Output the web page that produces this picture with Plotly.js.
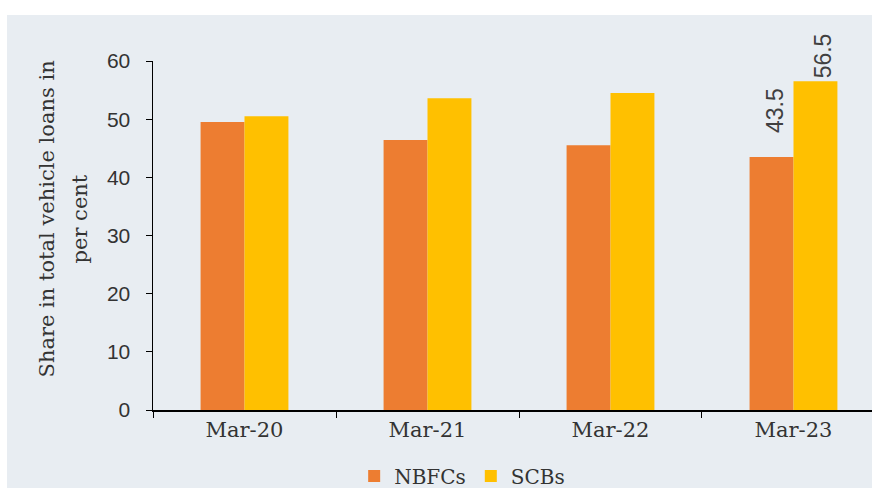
<!DOCTYPE html>
<html>
<head>
<meta charset="utf-8">
<script src="https://cdn.plot.ly/plotly-3.0.1.min.js"></script>
<style>
html,body{margin:0;padding:0;background:#ffffff;width:872px;height:488px;overflow:hidden;}
#chart{position:absolute;left:7px;top:15px;width:865px;height:500px;}
</style>
</head>
<body>
<div id="chart"></div>
<script>
const categories = ['Mar-20', 'Mar-21', 'Mar-22', 'Mar-23'];
const nbfcs = [49.5, 46.4, 45.5, 43.5];
const scbs = [50.5, 53.6, 54.5, 56.5];
const nbfcLabels = ['', '', '', '43.5'];
const scbLabels = ['', '', '', '56.5'];
const yTicks = [0, 10, 20, 30, 40, 50, 60];
const yTitleLines = ['Share in total vehicle loans in', 'per cent'];

const serif = 'DejaVu Serif, serif';
const sans = 'Liberation Sans, Arial, sans-serif';
const labelFont = {family: sans, size: 23, color: '#404040'};

const traces = [
  {type: 'bar', name: 'NBFCs', x: categories, y: nbfcs, marker: {color: '#ED7D31'}, hoverinfo: 'skip'},
  {type: 'bar', name: 'SCBs', x: categories, y: scbs, marker: {color: '#FFC000'}, hoverinfo: 'skip'}
];

// value labels as annotations anchored to the data values
const annotations = [];
nbfcLabels.forEach((t, i) => {
  if (t) annotations.push({x: categories[i], y: nbfcs[i], xref: 'x', yref: 'y', text: t, textangle: -90,
    showarrow: false, xanchor: 'center', yanchor: 'bottom', xshift: -18, yshift: 22, font: labelFont});
});
scbLabels.forEach((t, i) => {
  if (t) annotations.push({x: categories[i], y: scbs[i], xref: 'x', yref: 'y', text: t, textangle: -90,
    showarrow: false, xanchor: 'center', yanchor: 'bottom', xshift: 29, yshift: 1, font: labelFont});
});
// y-axis title (two lines)
const titleX = [-0.1474, -0.1015];
yTitleLines.forEach((t, i) => {
  annotations.push({xref: 'paper', yref: 'paper', x: titleX[i], y: 0.546, xanchor: 'center', yanchor: 'middle',
    text: t, textangle: -90, showarrow: false, font: {family: serif, size: 21, color: '#333'}});
});

const layout = {
  width: 865, height: 500,
  margin: {l: 146, r: 0, t: 46, b: 105},
  paper_bgcolor: '#e8edf2',
  plot_bgcolor: 'rgba(0,0,0,0)',
  barmode: 'group',
  bargap: 0.52,
  bargroupgap: 0,
  showlegend: true,
  legend: {orientation: 'h', x: 0.43, xanchor: 'center', y: -0.189, yanchor: 'middle',
           font: {family: serif, size: 20, color: '#333'}, bgcolor: 'rgba(0,0,0,0)', itemwidth: 30, traceorder: 'normal'},
  xaxis: {
    type: 'category', range: [-0.5, 3.429], tickson: 'boundaries', ticks: 'outside', ticklen: 6, tickcolor: '#000',
    showline: true, linecolor: '#000', linewidth: 1.5, showgrid: false, zeroline: false, automargin: false,
    tickfont: {family: serif, size: 21, color: '#333'}
  },
  yaxis: {
    range: [0, 60], tickvals: yTicks, ticks: 'outside', ticklen: 6, tickcolor: '#000',
    showline: true, linecolor: '#000', linewidth: 1.5, showgrid: false, zeroline: false, automargin: false,
    ticklabelstandoff: 11,
    tickfont: {family: sans, size: 21, color: '#333'}
  },
  annotations: annotations
};

Plotly.newPlot('chart', traces, layout, {displayModeBar: false, staticPlot: true});
</script>
</body>
</html>
